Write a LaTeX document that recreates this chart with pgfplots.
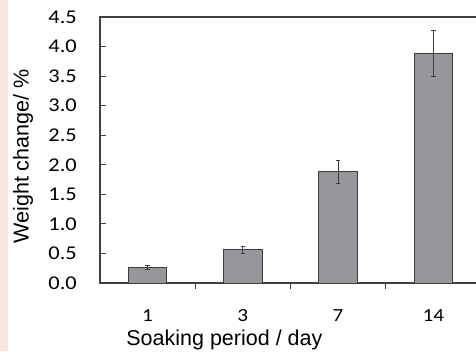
\documentclass[border=0pt]{standalone}
\usepackage{pgfplots}
\pgfplotsset{compat=1.18}
\usepackage{fontspec}
\setmainfont{Liberation Sans}
\newfontfamily\calfont[FakeStretch=1.15]{Carlito}
\definecolor{pinkstrip}{RGB}{249,230,222}
\definecolor{bargray}{RGB}{150,151,155}
\definecolor{edgegray}{RGB}{60,60,60}
\definecolor{axisgray}{RGB}{64,64,64}
\begin{document}
\begin{tikzpicture}[x=1bp,y=1bp]
\useasboundingbox (0,0) rectangle (476,351);
\clip (0,0) rectangle (476,351);
\fill[pinkstrip] (0,0) rectangle (8,351);
\begin{axis}[
  at={(100bp,68bp)}, anchor=south west,
  scale only axis, width=381bp, height=266bp,
  xmin=-0.5, xmax=3.5, ymin=0, ymax=4.5,
  ytick={0,0.5,1,1.5,2,2.5,3,3.5,4,4.5},
  /pgf/number format/fixed, /pgf/number format/fixed zerofill,
  /pgf/number format/precision=1, /pgf/number format/assume math mode=true,
  xtick={0,1,2,3}, xticklabels={1,3,7,14},
  minor xtick={0.5,1.5,2.5},
  major x tick style={draw=none},
  tick pos=left, tick align=inside,
  major tick length=6bp, minor tick length=6bp,
  every tick/.style={axisgray, line width=0.8bp},
  axis line style={axisgray, line width=1.2bp},
  xticklabel style={font=\calfont\fontsize{18.5bp}{20bp}\selectfont, anchor=base, inner sep=0pt, yshift=-32bp},
  yticklabel style={font=\calfont\fontsize{19.5bp}{21bp}\selectfont, anchor=east, inner sep=0pt, xshift=-23bp},
  xlabel={Soaking period / day},
  ylabel={Weight change/ \%},
  label style={font=\fontsize{21.5bp}{24bp}\selectfont},
  xlabel style={at={(axis description cs:0.3265,-0.236)}, anchor=base, inner sep=0pt},
  ylabel style={at={(axis description cs:-0.202,0.4756)}, anchor=center, inner sep=0pt},
  ybar, bar width=38.4bp,
]
\addplot[fill=bargray, draw=edgegray, line width=0.9bp,
  error bars/.cd, y dir=both, y explicit,
  error bar style={edgegray, line width=0.8bp},
  error mark options={rotate=90, mark size=2.2bp, edgegray, line width=0.8bp}]
  coordinates {(0,0.26) +- (0,0.03) (1,0.56) +- (0,0.06) (2,1.88) +- (0,0.19) (3,3.88) +- (0,0.39)};
\end{axis}
\end{tikzpicture}
\end{document}
